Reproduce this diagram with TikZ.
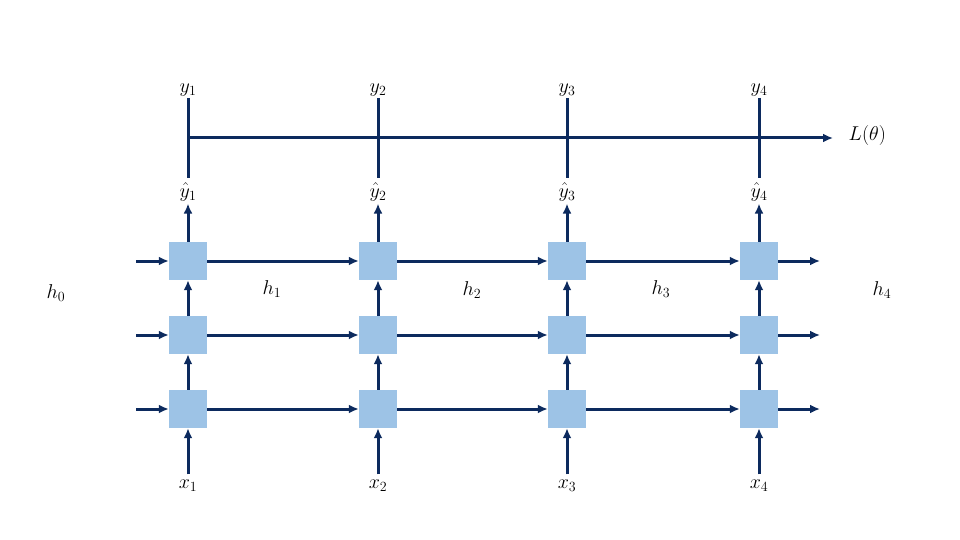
\RequirePackage{fix-cm}
\documentclass[tikz,border=0pt]{standalone}
\usetikzlibrary{arrows.meta}
\definecolor{navy}{HTML}{0C2A5E}
\definecolor{cellblue}{HTML}{9DC3E6}
\begin{document}
\begin{tikzpicture}[x=1pt,y=-1pt,
  cell/.style={fill=cellblue,draw=none,minimum size=38pt,inner sep=0pt},
  lbl/.style={inner sep=1.5pt,font=\fontsize{20}{24}\selectfont,text=black},
  con/.style={draw=navy,line width=3pt},
  arr/.style={con,-{Latex[length=10pt,width=9pt]}}]
\useasboundingbox (0,0) rectangle (960,540);
% cells
\foreach \c/\x in {1/188,2/378,3/567,4/759}{
  \foreach \r/\y in {1/261,2/335,3/409}{
    \node[cell] (b\c\r) at (\x,\y) {};
  }
  \node[lbl] (y\c) at (\x,90) {$y_{\c}$};
  \node[lbl] (yh\c) at (\x,192) {$\hat{y}_{\c}$};
  \node[lbl] (x\c) at (\x,486) {$x_{\c}$};
  \coordinate (t\c) at (\x,138);
}
\foreach \r/\y in {1/261,2/335,3/409}{
  \coordinate (in\r) at (136,\y);
  \coordinate (out\r) at (820,\y);
}
\coordinate (tend) at (833,138);
\node[lbl] (h0) at (56,293) {$h_0$};
\node[lbl] (h1) at (272,289) {$h_1$};
\node[lbl] (h2) at (472,290) {$h_2$};
\node[lbl] (h3) at (661,289) {$h_3$};
\node[lbl] (h4) at (882,290) {$h_4$};
\node[lbl,anchor=west] (L) at (847,136) {$L(\theta)$};
% loss bar
\foreach \c in {1,2,3,4}{
  \draw[con,shorten >=3pt] (y\c.south) -- (yh\c.north);
  \draw[arr,shorten >=1pt] (b\c1.north) -- (yh\c.south);
  \draw[arr,shorten <=4pt] (x\c.north) -- (b\c3.south);
  \draw[arr] (b\c3.north) -- (b\c2.south);
  \draw[arr] (b\c2.north) -- (b\c1.south);
}
\draw[arr] (t1) -- (tend);
% horizontal recurrences
\foreach \r in {1,2,3}{
  \draw[arr] (in\r) -- (b1\r.west);
  \draw[arr] (b1\r.east) -- (b2\r.west);
  \draw[arr] (b2\r.east) -- (b3\r.west);
  \draw[arr] (b3\r.east) -- (b4\r.west);
  \draw[arr] (b4\r.east) -- (out\r);
}
\end{tikzpicture}
\end{document}
